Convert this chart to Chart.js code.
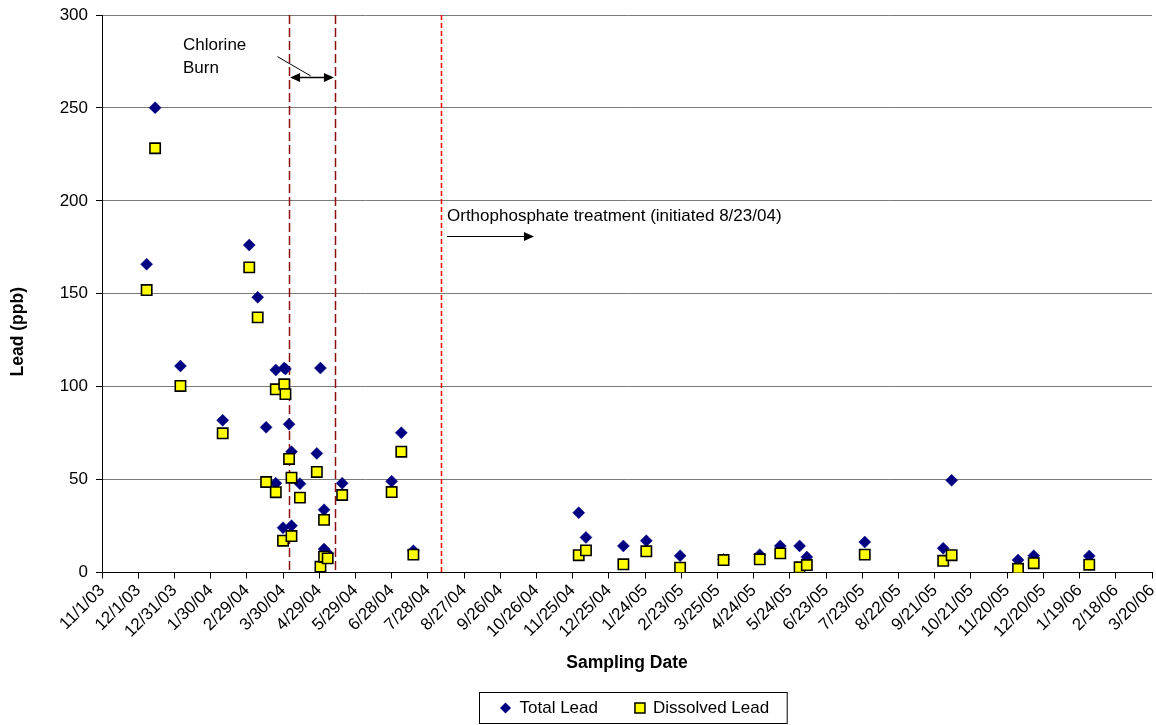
<!DOCTYPE html>
<html>
<head>
<meta charset="utf-8">
<script src="https://cdn.jsdelivr.net/npm/chart.js@4.4.1/dist/chart.umd.min.js"></script>
<style>
  html, body { margin: 0; padding: 0; background: #ffffff; }
  #wrap { width: 1156px; height: 725px; }
</style>
</head>
<body>
<div id="wrap"><canvas id="c" width="1156" height="725"></canvas></div>
<script>
// Sampling dates and lead results (ppb)
const sampleDates = [
  '2003-12-08', '2003-12-15', '2004-01-05', '2004-02-09', '2004-03-02', '2004-03-09',
  '2004-03-16', '2004-03-24', '2004-03-24', '2004-03-30', '2004-03-31', '2004-04-01',
  '2004-04-04', '2004-04-06', '2004-04-06', '2004-04-13', '2004-04-27', '2004-04-30',
  '2004-05-03', '2004-05-03', '2004-05-06', '2004-05-18', '2004-06-28', '2004-07-06',
  '2004-07-16', '2004-11-30', '2004-12-06', '2005-01-06', '2005-01-25', '2005-02-22',
  '2005-03-30', '2005-04-29', '2005-05-16', '2005-06-01', '2005-06-07', '2005-07-25',
  '2005-09-28', '2005-10-05', '2005-11-29', '2005-12-12', '2006-01-27'
];
const totalLead = [
  165.9, 250.1, 111.1, 81.9, 176.2, 148.1,
  78.1, 109.0, 48.0, 24.1, 110.0, 109.5,
  79.8, 65.0, 25.2, 47.8, 64.1, 110.0,
  33.8, 12.6, 10.3, 48.0, 49.1, 75.2,
  11.7, 32.2, 18.9, 14.3, 17.1, 9.0,
  7.0, 9.6, 14.3, 14.3, 8.3, 16.4,
  13.0, 49.6, 6.7, 9.0, 8.9
];
const dissolvedLead = [
  152.0, 228.3, 100.4, 74.9, 164.2, 137.3,
  48.7, 98.6, 43.2, 17.1, 101.3, 96.0,
  61.1, 51.0, 19.6, 40.3, 54.1, 3.1,
  28.3, 8.5, 7.6, 41.7, 43.3, 65.0,
  9.6, 9.3, 11.9, 4.4, 11.4, 2.6,
  6.7, 7.1, 10.3, 2.8, 4.0, 9.6,
  6.3, 9.3, 2.0, 5.0, 4.2
];

// Axis range and tick spacing (days)
const axisStartDate = '2003-11-01';
const axisEndDate = '2006-03-20';
const tickStepDays = 30;
const leadTicks = [0, 50, 100, 150, 200, 250, 300];

// Treatment events
const chlorineBurnStart = '2004-04-04';
const chlorineBurnEnd = '2004-05-12';
const orthophosphateStart = '2004-08-08';

const FONT = "'Liberation Sans', Arial, Helvetica, sans-serif";
const DAY_MS = 86400000;
const t0 = (() => { const [y, m, d] = axisStartDate.split('-').map(Number); return Date.UTC(y, m - 1, d); })();
function dayOf(iso) {
  const [y, m, d] = iso.split('-').map(Number);
  return Math.round((Date.UTC(y, m - 1, d) - t0) / DAY_MS);
}
function fmtDay(day) {
  const dt = new Date(t0 + day * DAY_MS);
  return (dt.getUTCMonth() + 1) + '/' + dt.getUTCDate() + '/' + String(dt.getUTCFullYear() % 100).padStart(2, '0');
}
const xMax = dayOf(axisEndDate);

const totalPoints = sampleDates.map((d, i) => ({ x: dayOf(d), y: totalLead[i] }));
const dissolvedPoints = sampleDates.map((d, i) => ({ x: dayOf(d), y: dissolvedLead[i] }));

// Dashed event lines, notes and arrows
const eventPlugin = {
  id: 'events',
  beforeDatasetsDraw(chart) {
    const { ctx, chartArea: a, scales: { x } } = chart;
    ctx.save();
    ctx.lineWidth = 1.5;
    ctx.strokeStyle = '#8B1010';
    ctx.setLineDash([9, 4]);
    [chlorineBurnStart, chlorineBurnEnd].forEach(d => {
      const px = Math.round(x.getPixelForValue(dayOf(d))) + 0.5;
      ctx.beginPath(); ctx.moveTo(px, a.top); ctx.lineTo(px, a.bottom); ctx.stroke();
    });
    ctx.strokeStyle = '#FF0000';
    ctx.setLineDash([5, 3]);
    const ox = Math.round(x.getPixelForValue(dayOf(orthophosphateStart))) + 0.5;
    ctx.beginPath(); ctx.moveTo(ox, a.top); ctx.lineTo(ox, a.bottom); ctx.stroke();
    ctx.restore();
  },
  afterDatasetsDraw(chart) {
    const { ctx, chartArea: a, scales: { x, y } } = chart;
    const head = (tx, ty, dir) => {
      ctx.beginPath();
      ctx.moveTo(tx, ty);
      ctx.lineTo(tx - dir * 10, ty - 4.5);
      ctx.lineTo(tx - dir * 10, ty + 4.5);
      ctx.closePath();
      ctx.fill();
    };
    ctx.save();
    ctx.fillStyle = '#000';
    ctx.strokeStyle = '#000';
    ctx.font = '17px ' + FONT;
    ctx.textBaseline = 'middle';
    ctx.textAlign = 'left';

    // Chlorine burn note
    ctx.fillText('Chlorine', 183, y.getPixelForValue(283.8));
    ctx.fillText('Burn', 183, y.getPixelForValue(271.4));
    ctx.lineWidth = 1;
    ctx.beginPath();
    ctx.moveTo(x.getPixelForValue(145.4), y.getPixelForValue(277.6));
    ctx.lineTo(x.getPixelForValue(173.0), y.getPixelForValue(267.2));
    ctx.stroke();
    const ay = Math.round(y.getPixelForValue(266.6)) + 0.5;
    const ax1 = x.getPixelForValue(dayOf(chlorineBurnStart)) + 1;
    const ax2 = x.getPixelForValue(dayOf(chlorineBurnEnd)) - 1;
    ctx.lineWidth = 1.5;
    ctx.beginPath(); ctx.moveTo(ax1 + 6, ay); ctx.lineTo(ax2 - 6, ay); ctx.stroke();
    head(ax1, ay, -1);
    head(ax2, ay, 1);

    // Orthophosphate note
    const noteX = 447;
    ctx.fillText('Orthophosphate treatment (initiated 8/23/04)', noteX, y.getPixelForValue(191.8));
    const oy = Math.round(y.getPixelForValue(181.1)) + 0.5;
    const ox2 = x.getPixelForValue(357.9);
    ctx.lineWidth = 1;
    ctx.beginPath(); ctx.moveTo(noteX, oy); ctx.lineTo(ox2 - 6, oy); ctx.stroke();
    head(ox2, oy, 1);

    // Value axis title, set beside the lower half of the plot
    ctx.save();
    ctx.translate(18, (a.top + a.bottom) / 2 + 38);
    ctx.rotate(-Math.PI / 2);
    ctx.textAlign = 'center';
    ctx.font = 'bold 17.5px ' + FONT;
    ctx.fillText('Lead (ppb)', 0, 0);
    ctx.restore();
    ctx.restore();
  }
};

// Boxed legend under the axis title
const legendPlugin = {
  id: 'boxLegend',
  afterDraw(chart) {
    const { ctx, chartArea: a } = chart;
    const ds = chart.data.datasets;
    ctx.save();
    ctx.font = '17px ' + FONT;
    const w1 = ctx.measureText(ds[0].label).width;
    const w2 = ctx.measureText(ds[1].label).width;
    const boxW = 40 + w1 + 42 + 13 + w2 + 18;
    const boxH = 31;
    const bx = 479.5;
    const by = 692.5;
    const cy = by + boxH / 2;
    ctx.fillStyle = '#fff';
    ctx.fillRect(bx, by, boxW, boxH);
    ctx.strokeStyle = '#000';
    ctx.lineWidth = 1;
    ctx.strokeRect(bx, by, boxW, boxH);

    // diamond swatch
    const dx = bx + 26;
    ctx.fillStyle = ds[0].backgroundColor;
    ctx.beginPath();
    ctx.moveTo(dx, cy - 5.5); ctx.lineTo(dx + 5.5, cy); ctx.lineTo(dx, cy + 5.5); ctx.lineTo(dx - 5.5, cy);
    ctx.closePath(); ctx.fill();
    ctx.fillStyle = '#000';
    ctx.textBaseline = 'middle';
    ctx.textAlign = 'left';
    const t1 = bx + 40;
    ctx.fillText(ds[0].label, t1, cy);

    // square swatch
    const sx = t1 + w1 + 42;
    ctx.fillStyle = ds[1].backgroundColor;
    ctx.fillRect(sx - 5, cy - 5, 10, 10);
    ctx.strokeStyle = ds[1].borderColor;
    ctx.lineWidth = 1.5;
    ctx.strokeRect(sx - 5, cy - 5, 10, 10);
    ctx.fillStyle = '#000';
    ctx.fillText(ds[1].label, sx + 13, cy);
    ctx.restore();
  }
};

new Chart(document.getElementById('c'), {
  type: 'scatter',
  data: {
    datasets: [
      {
        label: 'Total Lead',
        data: totalPoints,
        pointStyle: 'rectRot',
        pointRadius: 6,
        backgroundColor: '#000080',
        borderColor: '#000080',
        borderWidth: 0.5,
        order: 1
      },
      {
        label: 'Dissolved Lead',
        data: dissolvedPoints,
        pointStyle: 'rect',
        pointRadius: 7.3,
        backgroundColor: '#FFFF00',
        borderColor: '#000000',
        borderWidth: 1.6,
        order: 0
      }
    ]
  },
  options: {
    responsive: false,
    animation: false,
    events: [],
    layout: { autoPadding: false, padding: { top: 15, left: 0, right: 4, bottom: 39 } },
    scales: {
      x: {
        type: 'linear',
        min: 0,
        max: xMax,
        afterBuildTicks(scale) {
          const t = [];
          for (let v = 0; v <= xMax; v += tickStepDays) t.push({ value: v });
          scale.ticks = t;
        },
        ticks: {
          autoSkip: false,
          maxRotation: 45,
          minRotation: 45,
          color: '#000',
          padding: 2,
          font: { family: FONT, size: 17 },
          callback: v => fmtDay(v)
        },
        grid: { drawOnChartArea: false, drawTicks: true, tickLength: 6, tickColor: '#000', tickWidth: 1 },
        border: { color: '#000', width: 1 },
        title: {
          display: true,
          text: 'Sampling Date',
          color: '#000',
          font: { family: FONT, size: 17.5, weight: 'bold' },
          padding: { top: 0, bottom: 12 }
        },
        afterFit(scale) {
          scale.height = 113.5;
          scale.paddingLeft = 0;
          scale.paddingRight = 0;
        }
      },
      y: {
        min: 0,
        max: 300,
        afterBuildTicks(scale) { scale.ticks = leadTicks.map(v => ({ value: v })); },
        ticks: {
          color: '#000',
          padding: 8,
          font: { family: FONT, size: 17 }
        },
        grid: { color: '#7a7a7a', lineWidth: 1, tickLength: 6, tickColor: '#000' },
        border: { color: '#000', width: 1 },
        title: { display: false },
        afterFit(scale) {
          scale.width = 102;
          scale.paddingTop = 0;
          scale.paddingBottom = 0;
        }
      }
    },
    plugins: {
      legend: { display: false },
      tooltip: { enabled: false }
    }
  },
  plugins: [eventPlugin, legendPlugin]
});
</script>
</body>
</html>
